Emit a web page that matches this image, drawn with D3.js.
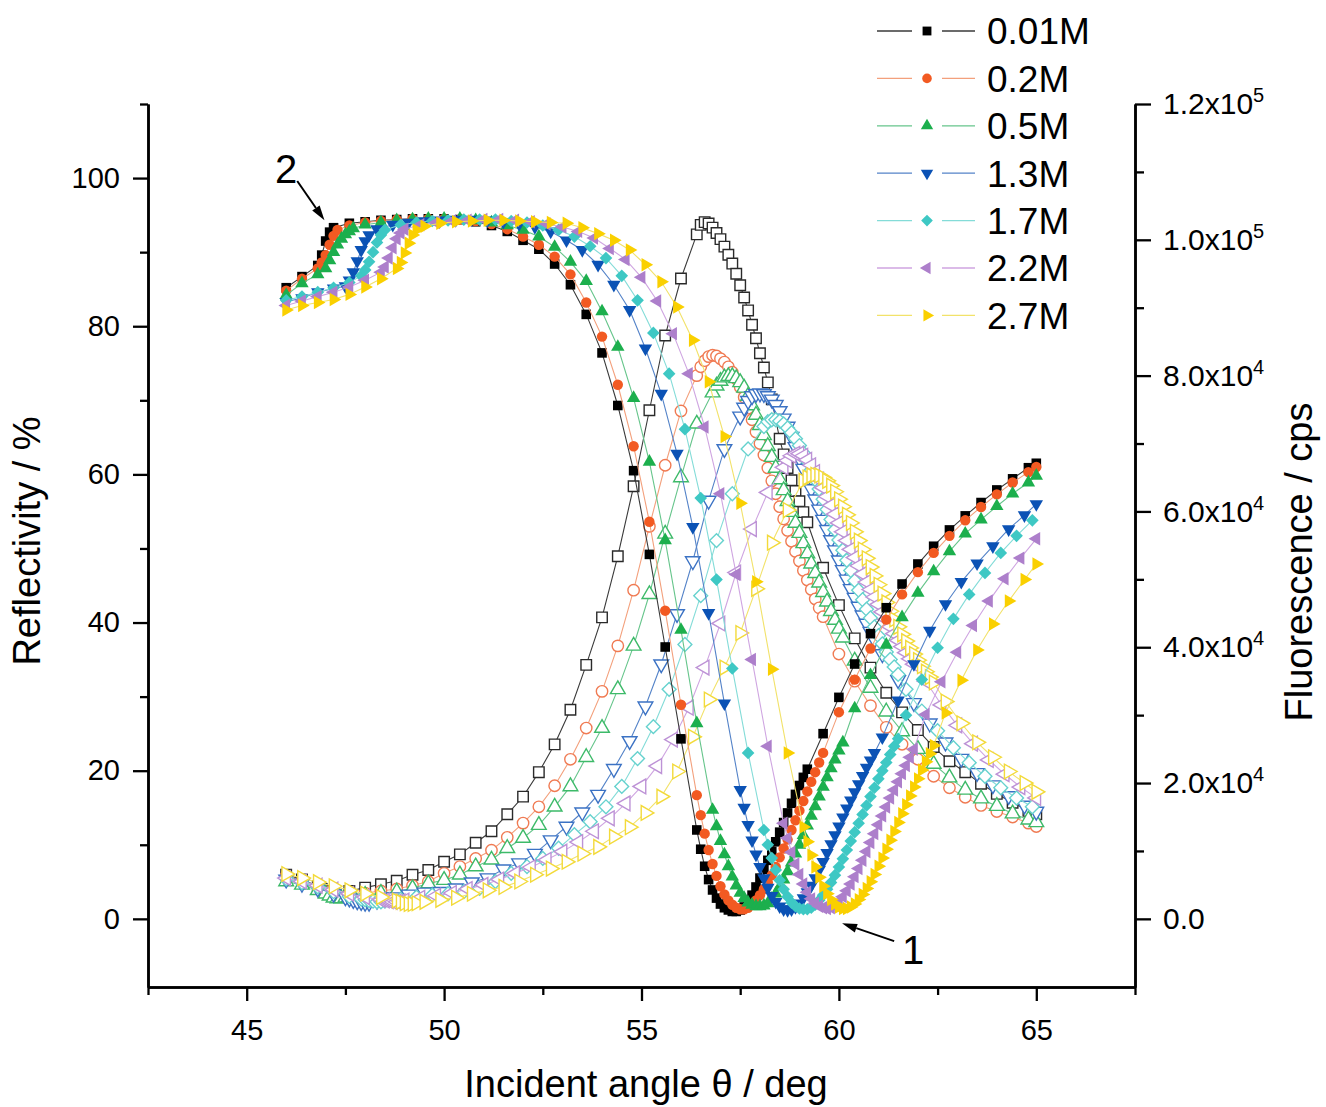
<!DOCTYPE html>
<html>
<head>
<meta charset="utf-8">
<script src="https://cdn.jsdelivr.net/npm/d3@7"></script>
<style>
  body { margin: 0; background: #fff; }
  text { font-family: "Liberation Sans", Arial, sans-serif; }
</style>
</head>
<body>
<svg id="chart" width="1326" height="1107"></svg>
<script>
// Each point: [incident angle (deg), reflectivity (%), fluorescence (cps)]
let s001 = [[46.0,85.2,6500],[46.4,86.7,5800],[46.8,88.2,4800],[46.9,89.6,4400],[47.0,91.5,4100],[47.1,92.7,3900],[47.2,93.3,3800],[47.6,93.9,4100],[48.0,94.1,4600],[48.4,94.3,5100],[48.8,94.4,5600],[49.2,94.5,6500],[49.6,94.5,7200],[50.0,94.5,8400],[50.4,94.4,9500],[50.8,94.1,11200],[51.2,93.6,12900],[51.6,92.8,15400],[52.0,91.6,18000],[52.4,90.4,21600],[52.8,88.4,25700],[53.2,85.6,30800],[53.6,81.6,37400],[54.0,76.4,44400],[54.4,69.3,53400],[54.8,60.5,63700],[55.2,49.2,74900],[55.6,36.7,85900],[56.0,24.3,94300],
  [56.4,12.0,100800],[56.5,9.4,102200],[56.6,7.1,102600],[56.7,5.3,102400],[56.8,3.9,101800],[56.9,2.8,101000],[57.0,2.0,100100],[57.1,1.5,99000],[57.2,1.2,97800],[57.3,1.0,96500],[57.4,1.0,95000],[57.5,1.2,93300],[57.6,1.6,91500],[57.7,2.3,89600],[57.8,3.2,87500],[57.9,4.3,85500],[58.0,5.5,83300],[58.1,6.7,81200],[58.2,7.9,79000],[58.3,9.1,76500],[58.4,10.4,73500],[58.5,11.7,70700],[58.6,13.0,68400],[58.7,14.3,66400],[58.8,15.6,64600],[58.9,16.8,63000],[59.0,18.0,61500],[59.1,19.1,59900],[59.2,20.2,58400],
  [59.6,25.0,51700],[60.0,29.9,46200],[60.4,34.4,41300],[60.8,38.5,37000],[61.2,42.0,33300],[61.6,45.2,30400],[62.0,47.9,27800],[62.4,50.3,25300],[62.8,52.5,23200],[63.2,54.4,21600],[63.6,56.2,19900],[64.0,57.9,18400],[64.4,59.4,17100],[64.8,60.9,15900],[65.0,61.5,15400]];

let s02 = [[46.0,84.8,6300],[46.4,86.4,5600],[46.8,87.8,4700],[46.9,88.6,4300],[47.0,89.6,4000],[47.1,91.0,3700],[47.2,92.2,3500],[47.3,93.0,3400],[47.6,93.6,3500],[48.0,94.0,3800],[48.4,94.2,4100],[48.8,94.4,4400],[49.2,94.5,4900],[49.6,94.5,5500],[50.0,94.5,6700],[50.4,94.4,7700],[50.8,94.2,8900],[51.2,93.8,10100],[51.6,93.1,12000],[52.0,92.1,14100],[52.4,91.0,16500],[52.8,89.4,19600],[53.2,87.0,23500],[53.6,83.2,28100],[54.0,78.6,33500],[54.4,72.1,40200],[54.8,63.8,48400],[55.2,53.6,57800],[55.6,41.6,66800],[56.0,28.9,74800],
  [56.4,16.7,80000],[56.5,14.0,81300],[56.6,11.5,82200],[56.7,9.3,82800],[56.8,7.4,83000],[56.9,5.8,82900],[57.0,4.4,82500],[57.1,3.3,82000],[57.2,2.5,81300],[57.3,1.9,80500],[57.4,1.5,79500],[57.5,1.3,78300],[57.6,1.3,76800],[57.7,1.5,75200],[57.8,1.9,73500],[57.9,2.5,71700],[58.0,3.2,70000],[58.1,4.0,68300],[58.2,4.9,66400],[58.3,5.9,64500],[58.4,7.0,62600],[58.5,8.3,60700],[58.6,9.5,58900],[58.7,10.7,57200],[58.8,12.0,55600],[58.9,13.3,54100],[59.0,14.6,52700],[59.1,15.9,51300],[59.2,17.2,49900],[59.3,18.5,48500],[59.4,19.8,47100],[59.5,21.1,45800],[59.6,22.4,44500],
  [60.0,27.9,39000],[60.4,32.3,35000],[60.8,36.5,31400],[61.2,40.4,28200],[61.6,43.8,25700],[62.0,46.8,23500],[62.4,49.4,21000],[62.8,51.7,19300],[63.2,53.8,17900],[63.6,55.6,16700],[64.0,57.3,15800],[64.4,58.9,15000],[64.8,60.3,14100],[65.0,61.0,13600]];

let s05 = [[46.0,84.2,5500],[46.4,85.8,5000],[46.8,87.0,4200],[47.0,87.8,3700],[47.1,88.9,3400],[47.2,90.0,3100],[47.3,91.0,3000],[47.4,91.8,3000],[47.5,92.4,3100],[47.6,92.8,3200],[47.7,93.2,3300],[48.0,93.7,3500],[48.4,94.0,3800],[48.8,94.3,4000],[49.2,94.4,4500],[49.6,94.5,5200],[50.0,94.5,5700],[50.4,94.5,6500],[50.8,94.3,7700],[51.2,94.0,8700],[51.6,93.6,10400],[52.0,93.0,11900],[52.4,92.1,13800],[52.8,90.7,16500],[53.2,88.7,19500],[53.6,86.1,23800],[54.0,82.0,28100],[54.4,77.2,33800],[54.8,70.3,40200],[55.2,61.7,47800],[55.6,51.1,56700],[56.0,39.0,65000],[56.4,26.4,72900],
  [56.8,14.7,77500],[56.9,12.5,78500],[57.0,10.5,79200],[57.1,8.7,79700],[57.2,7.1,79900],[57.3,5.7,79900],[57.4,4.5,79600],[57.5,3.5,79000],[57.6,2.8,78200],[57.7,2.2,77000],[57.8,1.9,75600],[57.9,1.7,74200],[58.0,1.7,72700],[58.1,1.8,71200],[58.2,2.1,69600],[58.3,2.7,68000],[58.4,3.4,66400],[58.5,4.3,64700],[58.6,5.3,63100],[58.7,6.4,61500],[58.8,7.6,59900],[58.9,8.8,58300],[59.0,10.0,56800],[59.1,11.3,55300],[59.2,12.6,53800],[59.3,13.9,52300],[59.4,15.2,50900],[59.5,16.5,49500],[59.6,17.8,48100],[59.7,19.1,46700],[59.8,20.3,45300],[59.9,21.5,44000],[60.0,22.7,42700],[60.1,23.8,41400],
  [60.4,28.4,38000],[60.8,32.9,34000],[61.2,37.0,30500],[61.6,40.7,27600],[62.0,44.0,25000],[62.4,46.9,22800],[62.8,49.6,20800],[63.2,52.0,19000],[63.6,53.9,17700],[64.0,55.7,16600],[64.4,57.4,15500],[64.8,58.9,14600],[65.0,59.8,14200]];

let s13 = [[46.0,83.3,5800],[46.4,83.8,5200],[46.8,84.6,4500],[47.2,85.1,3700],[47.5,85.4,3200],[47.6,86.2,3000],[47.7,87.3,2800],[47.8,88.8,2600],[47.9,90.3,2500],[48.0,91.5,2400],[48.1,92.3,2400],[48.3,93.1,2700],[48.7,93.7,3200],[49.1,94.0,3600],[49.5,94.2,3900],[49.9,94.3,4000],[50.3,94.4,4500],[50.7,94.4,5400],[51.1,94.3,6000],[51.5,94.1,7300],[51.9,93.8,8200],[52.3,93.4,9600],[52.7,92.8,11600],[53.1,91.6,13600],[53.5,90.3,15700],[53.9,88.3,18300],[54.3,85.6,22100],[54.7,82.2,26200],[55.1,77.0,31300],[55.5,70.9,37500],[55.9,62.8,44900],[56.3,52.9,52700],[56.7,41.3,61600],[57.1,29.1,69200],
  [57.5,17.4,74000],[57.6,15.0,75300],[57.7,12.7,76300],[57.8,10.6,77000],[57.9,8.7,77300],[58.0,7.0,77400],[58.1,5.5,77300],[58.2,4.2,77000],[58.3,3.1,76500],[58.4,2.3,75700],[58.5,1.7,74800],[58.6,1.3,73700],[58.7,1.2,72500],[58.8,1.3,71000],[58.9,1.6,69500],[59.0,2.1,67800],[59.1,2.8,66300],[59.2,3.6,64800],[59.3,4.5,63300],[59.4,5.5,61800],[59.5,6.6,60300],[59.6,7.7,58800],[59.7,8.9,57300],[59.8,10.1,55800],[59.9,11.3,54300],[60.0,12.5,52800],[60.1,13.7,51400],[60.2,14.9,50000],[60.3,16.0,48600],[60.4,17.1,47300],[60.5,18.2,46000],[60.6,19.3,44700],[60.7,20.4,43500],[60.8,21.4,42300],[60.9,22.4,41100],
  [61.1,24.5,39000],[61.5,29.5,35200],[61.9,34.4,31800],[62.3,38.9,28800],[62.7,42.5,26000],[63.1,45.5,23600],[63.5,48.0,21500],[63.9,50.3,19700],[64.3,52.6,18100],[64.7,54.5,16700],[65.0,56.0,15800]];

let s17 = [[46.0,83.5,5900],[46.4,84.0,5300],[46.8,84.6,4700],[47.2,85.2,4000],[47.6,85.9,3300],[47.9,86.8,2900],[48.0,87.6,2800],[48.1,88.7,2700],[48.2,90.0,2600],[48.3,91.3,2500],[48.4,92.3,2500],[48.5,93.0,2600],[48.9,93.7,2900],[49.3,94.0,3200],[49.7,94.2,3500],[50.1,94.3,3700],[50.5,94.4,4000],[50.9,94.4,4500],[51.3,94.4,5500],[51.7,94.2,6700],[52.1,94.0,7700],[52.5,93.6,8900],[52.9,93.0,10400],[53.3,92.1,12400],[53.7,90.8,14300],[54.1,89.2,16500],[54.5,86.8,19500],[54.9,83.5,23600],[55.3,79.1,28300],[55.7,73.6,33800],[56.1,66.1,40400],[56.5,56.8,47600],[56.9,45.8,55700],[57.3,33.8,62600],[57.7,22.4,69200],
  [58.1,12.0,72500],[58.2,10.0,73200],[58.3,8.2,73500],[58.4,6.6,73500],[58.5,5.2,73300],[58.6,4.0,72900],[58.7,3.0,72300],[58.8,2.2,71600],[58.9,1.7,70700],[59.0,1.4,69700],[59.1,1.3,68600],[59.2,1.3,67400],[59.3,1.5,66100],[59.4,1.9,64700],[59.5,2.5,63300],[59.6,3.2,61800],[59.7,4.0,60300],[59.8,4.9,58800],[59.9,5.9,57300],[60.0,7.0,55800],[60.1,8.1,54300],[60.2,9.3,52800],[60.3,10.5,51300],[60.4,11.7,49800],[60.5,12.9,48400],[60.6,14.1,47000],[60.7,15.3,45600],[60.8,16.5,44300],[60.9,17.7,43000],[61.0,18.9,41700],[61.1,20.0,40500],[61.2,21.1,39300],[61.3,22.2,38200],[61.4,23.3,37100],[61.5,24.3,36000],
  [61.7,27.5,33800],[62.1,32.3,30600],[62.5,36.6,27700],[62.9,40.5,25200],[63.3,43.8,23000],[63.7,46.7,21000],[64.1,49.4,19300],[64.5,51.7,17800],[64.9,53.8,16500]];

let s22 = [[46.0,82.8,6000],[46.4,83.4,5500],[46.8,84.0,4900],[47.2,84.6,4300],[47.6,85.3,3700],[48.0,86.2,3200],[48.4,87.3,2800],[48.5,88.0,2700],[48.6,89.2,2600],[48.7,90.6,2500],[48.8,91.8,2500],[48.9,92.6,2600],[49.0,93.1,2700],[49.4,93.7,3100],[49.8,94.0,3400],[50.2,94.2,3800],[50.6,94.3,4400],[51.0,94.4,5000],[51.4,94.4,5800],[51.8,94.3,6700],[52.2,94.1,7600],[52.6,93.8,8700],[53.0,93.4,9900],[53.4,92.8,11300],[53.8,91.9,12900],[54.2,90.5,14800],[54.6,89.0,17000],[55.0,86.6,19500],[55.4,83.4,22500],[55.8,79.0,26400],[56.2,73.6,31100],[56.6,66.4,37000],[57.0,57.4,43500],[57.4,46.5,51000],[57.8,35.0,57400],[58.2,23.3,62800],
  [58.6,12.9,66500],[58.7,10.9,67500],[58.8,9.0,68200],[58.9,7.4,68500],[59.0,6.0,68500],[59.1,4.7,68200],[59.2,3.6,67600],[59.3,2.7,66800],[59.4,2.1,65800],[59.5,1.7,64700],[59.6,1.5,63500],[59.7,1.4,62200],[59.8,1.5,60900],[59.9,1.8,59600],[60.0,2.3,58300],[60.1,3.0,57000],[60.2,3.8,55700],[60.3,4.7,54400],[60.4,5.7,53200],[60.5,6.8,52000],[60.6,7.9,50800],[60.7,9.1,49600],[60.8,10.3,48500],[60.9,11.5,47400],[61.0,12.7,46300],[61.1,13.9,45200],[61.2,15.1,44100],[61.3,16.3,43000],[61.4,17.4,42000],[61.5,18.5,41000],[61.6,19.6,40100],[61.7,20.7,39200],[61.8,21.8,38300],[61.9,22.9,37500],
  [62.2,27.6,35000],[62.6,32.0,31500],[63.0,36.0,28500],[63.4,39.6,25800],[63.8,42.9,23400],[64.2,45.9,21300],[64.6,48.7,19400],[65.0,51.3,17800]];

let s27 = [[46.0,82.2,6600],[46.4,82.8,6000],[46.8,83.2,5400],[47.2,83.6,4800],[47.6,84.3,4200],[48.0,85.3,3700],[48.4,86.4,3200],[48.8,87.8,2700],[48.9,88.6,2500],[49.0,89.9,2300],[49.1,91.2,2200],[49.2,92.3,2200],[49.3,93.0,2300],[49.5,93.5,2500],[49.9,93.9,2800],[50.3,94.1,3100],[50.7,94.2,3700],[51.1,94.3,4200],[51.5,94.3,4700],[51.9,94.2,5500],[52.3,94.1,6500],[52.7,94.0,7400],[53.1,93.9,8400],[53.5,93.3,9600],[53.9,92.5,10600],[54.3,91.6,12100],[54.7,90.3,13500],[55.1,88.3,15600],[55.5,86.0,18000],[55.9,82.6,21700],[56.3,78.1,26800],[56.7,72.5,32300],[57.1,65.1,37000],[57.5,56.1,42100],[57.9,45.5,48600],[58.3,33.7,55400],[58.7,22.4,60200],
  [59.1,12.4,64500],[59.2,10.4,65000],[59.3,8.6,65300],[59.4,7.0,65400],[59.5,5.6,65300],[59.6,4.4,65000],[59.7,3.4,64500],[59.8,2.6,63800],[59.9,2.0,62900],[60.0,1.6,61800],[60.1,1.4,60700],[60.2,1.4,59500],[60.3,1.6,58300],[60.4,2.0,57000],[60.5,2.6,55700],[60.6,3.3,54400],[60.7,4.1,53100],[60.8,5.0,51800],[60.9,6.0,50500],[61.0,7.1,49200],[61.1,8.2,47900],[61.2,9.4,46600],[61.3,10.6,45300],[61.4,11.8,44100],[61.5,13.0,43000],[61.6,14.2,41900],[61.7,15.4,40900],[61.8,16.6,39900],[61.9,17.8,39000],[62.0,18.9,38100],[62.1,20.1,37200],[62.2,21.2,36400],[62.3,22.3,35600],[62.4,23.4,34800],
  [62.7,27.8,32000],[63.1,32.2,28800],[63.5,36.3,26000],[63.9,39.8,23800],[64.3,42.9,21700],[64.7,45.8,20000],[65.0,47.9,18700]];

let concLabels = ["0.01M", "0.2M", "0.5M", "1.3M", "1.7M", "2.2M", "2.7M"];
let allSeries = [s001, s02, s05, s13, s17, s22, s27];

// tick values
let xMajor = [45, 50, 55, 60, 65];
let xMinor = [42.5, 47.5, 52.5, 57.5, 62.5, 67.5];
let leftMajor = [0, 20, 40, 60, 80, 100];
let leftMinor = [10, 30, 50, 70, 90, 110];
let rightMajor = [0, 20000, 40000, 60000, 80000, 100000, 120000];
let rightMinor = [10000, 30000, 50000, 70000, 90000, 110000];

// colours: filled marker, line, open marker
let markColors = ["#000000", "#f25a22", "#1caf4d", "#0b52b5", "#3ec8c4", "#ad7fcb", "#fad000"];
let lineColors = ["#3a3a3a", "#f3a07c", "#66c58b", "#5483c8", "#84dcd8", "#cfa5e1", "#f2e26a"];
let openColors = ["#2a2a2a", "#f07a52", "#3dba69", "#3b72c4", "#66d2ce", "#bd92d6", "#f3da3a"];

let shapes = [
    { type: d3.symbolSquare, rot: 0, size: 92 },
    { type: d3.symbolCircle, rot: 0, size: 85 },
    { type: d3.symbolTriangle, rot: 0, size: 78 },
    { type: d3.symbolTriangle, rot: 180, size: 78 },
    { type: d3.symbolSquare, rot: 45, size: 80 },
    { type: d3.symbolTriangle, rot: -90, size: 78 },
    { type: d3.symbolTriangle, rot: 90, size: 78 }
];

let svg = d3.select("#chart");

// scales
let x = d3.scaleLinear().domain([42.5, 67.5]).range([148, 1135]);
let yL = d3.scaleLinear().domain([-9.2, 110]).range([987, 104]);
let yR = d3.scaleLinear().domain([0, 120000]).range([yL(0), yL(110)]);
yR.domain([yR.invert(987), 120000]).range([987, 104]);

//*************************************************************************************
// DATA: fluorescence (open symbols) first, reflectivity (filled) on top

function drawSeries(data, i, open) {
    let yScale = open ? yR : yL;
    let col = open ? 2 : 1;
    let g = svg.append("g");

    let line = d3.line()
        .x(d => x(d[0]))
        .y(d => yScale(d[col]));

    g.append("path")
        .datum(data)
        .attr("d", line)
        .attr("fill", "none")
        .attr("stroke", lineColors[i])
        .attr("stroke-width", 1.1);

    let sh = shapes[i];
    let sym = d3.symbol().type(sh.type).size(open ? sh.size * 1.2 : sh.size);

    g.selectAll("path.pt")
        .data(data)
        .join("path")
        .attr("class", "pt")
        .attr("d", sym)
        .attr("transform", d => "translate(" + x(d[0]) + "," + yScale(d[col]) + ") rotate(" + sh.rot + ")")
        .attr("fill", open ? "#fff" : markColors[i])
        .attr("stroke", open ? openColors[i] : "none")
        .attr("stroke-width", open ? 1.4 : 0);
}

allSeries.forEach((s, i) => drawSeries(s, i, true));
allSeries.forEach((s, i) => drawSeries(s, i, false));

//*************************************************************************************
// AXES

function styleAxis(g, fs) {
    g.selectAll("path.domain").attr("stroke", "#000").attr("stroke-width", 2.5);
    g.selectAll(".tick line").attr("stroke", "#000").attr("stroke-width", 2.3);
    g.selectAll(".tick text").attr("fill", "#000").style("font-size", fs || "29px")
        .style("font-family", '"Liberation Sans", Arial, sans-serif');
}

// x axis
let xg = svg.append("g").attr("transform", "translate(0,987)");
xg.call(d3.axisBottom(x).tickValues(xMajor).tickSize(14).tickPadding(18).tickSizeOuter(0).tickFormat(d3.format("d")));
styleAxis(xg);
let xm = svg.append("g").attr("transform", "translate(0,987)");
xm.call(d3.axisBottom(x).tickValues(xMinor).tickSize(8).tickSizeOuter(0).tickFormat(""));
styleAxis(xm);

// left axis
let lg = svg.append("g").attr("transform", "translate(148,0)");
lg.call(d3.axisLeft(yL).tickValues(leftMajor).tickSize(15).tickPadding(13).tickSizeOuter(0).tickFormat(d3.format("d")));
styleAxis(lg);
let lm = svg.append("g").attr("transform", "translate(148,0)");
lm.call(d3.axisLeft(yL).tickValues(leftMinor).tickSize(8).tickSizeOuter(0).tickFormat(""));
styleAxis(lm);

// right axis
let rg = svg.append("g").attr("transform", "translate(1135,0)");
rg.call(d3.axisRight(yR).tickValues(rightMajor).tickSize(16).tickPadding(12).tickSizeOuter(0).tickFormat(""));
styleAxis(rg, "30px");
let rm = svg.append("g").attr("transform", "translate(1135,0)");
rm.call(d3.axisRight(yR).tickValues(rightMinor).tickSize(9).tickSizeOuter(0).tickFormat(""));
styleAxis(rm);

// scientific labels like 1.2x10^5
rg.selectAll(".tick text").each(function (d) {
    let t = d3.select(this);
    if (d === 0) { t.text("0.0"); return; }
    let e = Math.floor(Math.log10(d));
    let m = d / Math.pow(10, e);
    t.append("tspan").text(m.toFixed(1) + "x10");
    t.append("tspan").attr("dy", "-0.6em").style("font-size", "20px").text(e);
});

// axis titles
svg.append("text")
    .attr("transform", "translate(40,541) rotate(-90)")
    .attr("text-anchor", "middle")
    .style("font-size", "38px")
    .text("Reflectivity / %");

svg.append("text")
    .attr("transform", "translate(1312,562) rotate(-90)")
    .attr("text-anchor", "middle")
    .style("font-size", "38px")
    .text("Fluorescence / cps");

svg.append("text")
    .attr("x", 646)
    .attr("y", 1097)
    .attr("text-anchor", "middle")
    .style("font-size", "38px")
    .text("Incident angle \u03b8 / deg");

//*************************************************************************************
// ANNOTATIONS (arrows "1" and "2"), placed in data units

function arrow(x0, y0, x1, y1) {
    let ang = Math.atan2(y1 - y0, x1 - x0);
    let len = 15, half = 4.5;
    let bx = x1 - len * Math.cos(ang), by = y1 - len * Math.sin(ang);
    svg.append("line")
        .attr("x1", x0).attr("y1", y0).attr("x2", bx).attr("y2", by)
        .attr("stroke", "#000").attr("stroke-width", 2);
    let p = [[x1, y1],
             [bx + half * Math.sin(ang), by - half * Math.cos(ang)],
             [bx - half * Math.sin(ang), by + half * Math.cos(ang)]];
    svg.append("path").attr("d", "M" + p.join("L") + "Z").attr("fill", "#000");
}

svg.append("text").attr("x", x(46.0)).attr("y", yL(101.3)).attr("dy", "0.36em")
    .attr("text-anchor", "middle").style("font-size", "40px").text("2");
arrow(x(46.28), yL(99.6), x(46.97), yL(94.3));

svg.append("text").attr("x", x(61.88)).attr("y", yL(-4.2)).attr("dy", "0.36em")
    .attr("text-anchor", "middle").style("font-size", "40px").text("1");
arrow(x(61.4), yL(-3.0), x(60.08), yL(-0.6));

//*************************************************************************************
// LEGEND

let legend = svg.append("g");
concLabels.forEach((lab, i) => {
    let ly = 31 + i * 47.4;
    legend.append("line").attr("x1", 877).attr("x2", 912).attr("y1", ly).attr("y2", ly)
        .attr("stroke", lineColors[i]).attr("stroke-width", 1.3);
    legend.append("line").attr("x1", 942).attr("x2", 975).attr("y1", ly).attr("y2", ly)
        .attr("stroke", lineColors[i]).attr("stroke-width", 1.3);
    let sh = shapes[i];
    legend.append("path")
        .attr("d", d3.symbol().type(sh.type).size(sh.size * 0.85)())
        .attr("transform", "translate(927," + ly + ") rotate(" + sh.rot + ")")
        .attr("fill", markColors[i]);
    legend.append("text").attr("x", 987).attr("y", ly).attr("dy", "0.36em")
        .style("font-size", "37px").text(lab);
});
</script>
</body>
</html>
